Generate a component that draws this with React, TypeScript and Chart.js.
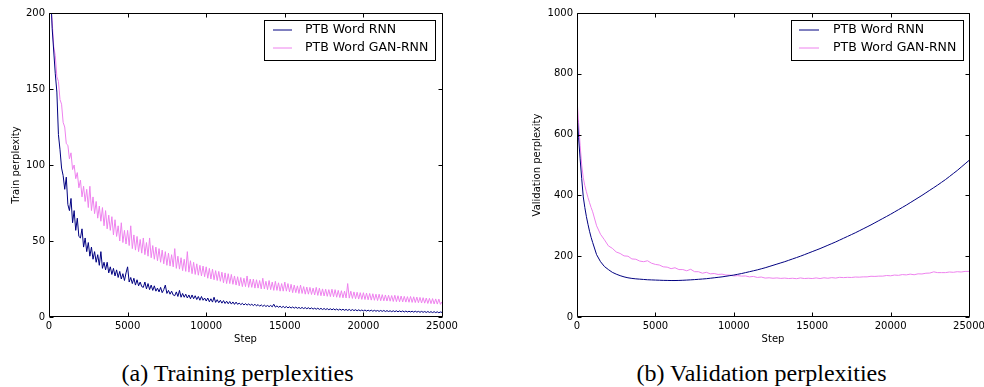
import React, { useEffect, useRef } from "react";
import { Chart, registerables } from "chart.js";

Chart.register(...registerables);

// ---------- data ----------
const trainSteps = Array.from({ length: 251 }, (_, i) => i * 100);
const trainRnn = [
  260, 215, 190, 175, 160, 148, 120, 110, 98, 93,
  84, 92, 74, 70, 78, 62, 70, 57, 65, 53,
  52, 58, 46, 52, 43, 49, 40, 46, 38, 43,
  36, 41, 34, 43, 32, 36, 31, 36, 29, 33,
  28, 32, 27, 31, 26, 30, 25, 28.5, 24, 29,
  33, 23, 26, 22, 25.5, 21, 24.5, 20.5, 23, 20,
  19.5, 23, 18.5, 22, 18, 21, 17.5, 20.5, 17, 19,
  16.5, 19.5, 16, 18, 21, 15.5, 17.5, 15, 17, 14.5,
  14, 16.5, 13.5, 17.5, 13, 15.5, 13, 15, 12.5, 14.5,
  12, 14.5, 12, 14, 11.5, 13.5, 11, 13.5, 11, 12.5,
  10.5, 12.5, 10, 12, 9.8, 13, 9.6, 11.4, 9.4, 11,
  9.1, 10.8, 8.9, 10.4, 8.7, 10.2, 8.5, 9.9, 8.3, 9.8,
  8.3, 9.2, 8.1, 9, 7.9, 8.8, 7.8, 8.6, 7.7, 8.4,
  7.5, 8.4, 7.3, 8.2, 7.1, 8, 7, 7.8, 6.9, 7.6,
  6.8, 7.6, 6.7, 8.4, 6.5, 7.3, 6.4, 7.1, 6.2, 7,
  6.1, 6.9, 6, 6.7, 5.9, 6.6, 5.8, 6.5, 5.7, 6.3,
  5.6, 6.3, 5.5, 6.2, 5.4, 6.1, 5.3, 6, 5.2, 5.8,
  5.1, 5.8, 5, 5.7, 4.9, 5.6, 4.9, 5.5, 4.8, 5.4,
  4.7, 5.4, 4.6, 5.3, 4.5, 5.2, 4.5, 5.1, 4.4, 5,
  4.3, 5, 4.2, 4.9, 4.2, 4.8, 4.1, 4.7, 4.1, 4.6,
  4, 4.6, 3.9, 4.5, 3.9, 4.5, 3.8, 4.4, 3.8, 4.3,
  3.7, 4.3, 3.7, 4.3, 3.6, 4.2, 3.6, 4.1, 3.5, 4.1,
  3.5, 4.1, 3.4, 4, 3.4, 4, 3.3, 3.9, 3.3, 3.8,
  3.3, 3.8, 3.2, 3.8, 3.2, 3.7, 3.1, 3.7, 3.1, 3.6,
  3, 3.6, 3, 3.5, 2.9, 3.5, 2.9, 3.4, 2.8, 3.3,
  3,
];
const trainGan = [
  235, 205, 195, 178, 172, 158, 155, 143, 140, 128,
  125, 114, 113, 104, 108, 97, 100, 91, 95, 85,
  90, 79, 86, 76, 84, 72, 86, 70, 79, 68,
  76, 65, 73, 63, 72, 60, 70, 58, 67, 57,
  66, 54, 64, 53, 60, 50, 62, 49, 57, 48,
  57, 47, 60, 45, 54, 44, 53, 43, 51, 42,
  52, 41, 49, 40, 52, 39, 47, 38, 46, 37,
  45, 36, 44, 35, 43, 34, 42, 33.5, 41, 33,
  45, 32, 40, 31.5, 39, 30.5, 38, 30, 43, 29.5,
  37, 28.5, 36, 28, 35, 27.5, 34, 27, 33.5, 26.5,
  33, 25.5, 32, 25, 31.5, 24.5, 30.5, 24, 30, 23.5,
  29.5, 22.5, 29, 22, 28.5, 22, 28, 21.5, 27, 21,
  26.5, 20.5, 26, 20, 25.5, 20, 27, 19.5, 25, 19.5,
  25, 19, 24.5, 19, 24, 18.5, 25.5, 18.5, 23.5, 18,
  24, 18, 23, 17.5, 23.5, 17.5, 22.5, 17, 22, 17,
  23, 17, 22, 16.5, 21.5, 16, 21, 16, 20.5, 15.5,
  21, 15.5, 20, 15, 19.7, 15, 19.5, 14.8, 19, 14.5,
  19.5, 14.2, 19, 14, 18.5, 13.8, 18.3, 13.6, 18, 13.4,
  18.3, 13.3, 18, 13, 17.5, 12.8, 17.3, 12.6, 17, 12.5,
  22, 12.4, 17, 12.2, 16.5, 12, 16.3, 11.8, 16, 11.6,
  16, 11.5, 15.7, 11.3, 15.5, 11.1, 15.3, 11, 15, 10.8,
  15, 10.7, 14.7, 10.6, 14.5, 10.5, 14.3, 10.4, 14.1, 10.2,
  14.3, 10.1, 14, 10, 13.8, 9.9, 13.6, 9.8, 13.4, 9.7,
  13.5, 9.6, 13.3, 9.5, 13.1, 9.4, 12.9, 9.2, 12.7, 9.1,
  12.5, 8.9, 12.3, 8.8, 12.1, 8.6, 11.9, 8.5, 11.8, 8.3,
  10,
];

const valSteps = [
  ...Array.from({ length: 11 }, (_, i) => i * 100),
  ...Array.from({ length: 96 }, (_, i) => 1250 + i * 250),
];
const valRnn = [
  680, 590, 520, 455, 395, 360, 330, 305, 282, 262, 245,
  205, 182, 166, 156, 147, 141, 136, 132, 129, 127,
  125.5, 124.5, 123.5, 122.5, 122, 121.5, 121, 120.5, 120.3, 120,
  120, 120.3, 120.8, 121.5, 122.2, 123, 124, 125, 126, 127.5,
  129, 130.5, 132, 134, 136, 138, 140.5, 143, 146, 149,
  152, 155, 158.5, 162, 166, 170, 174, 178, 182, 186.5,
  191, 195.5, 200, 205, 210, 215, 220, 225, 230.5, 236,
  241.5, 247, 253, 259, 265, 271, 277, 283.5, 290, 296.5,
  303, 310, 317, 324, 331, 338, 345.5, 353, 360.5, 368,
  376, 384, 392, 400, 408.5, 417, 425.5, 434, 443, 452,
  462, 472, 482, 493, 504, 515,
];
const valGan = [
  720, 640, 565, 500, 458, 432, 412, 393, 376, 360, 346,
  300, 272, 254, 234, 226, 214, 209, 201, 200, 191,
  190, 184, 182, 185, 177, 173, 171, 165, 164, 159,
  162, 156, 156, 152, 157, 149, 149, 144, 147, 142,
  143, 140, 141, 138, 138, 135, 136, 134.5, 135, 132,
  133.5, 130, 131.5, 128, 129, 127.5, 128.5, 127, 128, 126.5,
  127.5, 126, 128.5, 126.5, 127.5, 126.5, 128.5, 126.5, 129, 127.5,
  129.5, 128, 130.5, 129.5, 130.5, 130, 131.5, 131, 132, 132,
  134, 133.5, 134.5, 134.5, 136.5, 135.5, 138, 137, 139.5, 138.5,
  141, 139, 142, 141.5, 144, 144.5, 148.5, 146, 146, 146,
  148, 147, 149, 148, 150, 150,
];

const xTicks = [0, 5000, 10000, 15000, 20000, 25000];
const trainYTicks = [0, 50, 100, 150, 200];
const valYTicks = [0, 200, 400, 600, 800, 1000];
const seriesLabels = ["PTB Word RNN", "PTB Word GAN-RNN"];
const seriesColors = ["#000080", "#EE82EE"];

// ---------- plugins ----------
const framePlugin = {
  id: "mplFrame",
  afterDraw(chart: any, _args: any, opts: any) {
    const ctx = chart.ctx;
    const { left, right, top, bottom } = chart.chartArea;
    const L = Math.round(left) + 0.5;
    const R = Math.round(right) + 0.5;
    const T = Math.round(top) + 0.5;
    const B = Math.round(bottom) - 0.5;
    ctx.save();
    ctx.strokeStyle = "#000";
    ctx.lineWidth = 1;
    ctx.beginPath();
    ctx.rect(L, T, R - L, B - T);
    ctx.stroke();
    const tl = 4;
    ctx.beginPath();
    const xs = chart.scales.x;
    xs.ticks.forEach((t: any) => {
      const p = Math.round(xs.getPixelForValue(t.value)) + 0.5;
      ctx.moveTo(p, B);
      ctx.lineTo(p, B - tl);
      ctx.moveTo(p, T);
      ctx.lineTo(p, T + tl);
    });
    const ys = chart.scales.y;
    ys.ticks.forEach((t: any) => {
      const p = Math.round(ys.getPixelForValue(t.value)) + 0.5;
      ctx.moveTo(L, p);
      ctx.lineTo(L + tl, p);
      ctx.moveTo(R, p);
      ctx.lineTo(R - tl, p);
    });
    ctx.stroke();

    // legend
    const lg = opts.legend;
    if (lg) {
      ctx.fillStyle = "#fff";
      ctx.fillRect(lg.x, lg.y, lg.w, lg.h);
      ctx.strokeStyle = "#000";
      ctx.strokeRect(lg.x + 0.5, lg.y + 0.5, lg.w, lg.h);
      ctx.font = "12.5px 'DejaVu Sans'";
      ctx.textBaseline = "middle";
      ctx.textAlign = "left";
      seriesLabels.forEach((lab, i) => {
        const y = lg.rows[i];
        ctx.strokeStyle = seriesColors[i];
        ctx.beginPath();
        ctx.moveTo(lg.lx1, y);
        ctx.lineTo(lg.lx2, y);
        ctx.stroke();
        ctx.fillStyle = "#000";
        ctx.fillText(lab, lg.tx, y);
      });
    }
    ctx.restore();
  },
};

function makeChart(
  canvas: HTMLCanvasElement,
  cfg: {
    steps: number[];
    a: number[];
    b: number[];
    yTicks: number[];
    yMax: number;
    yTitle: string;
    yWidth: number;
    yTitlePad: number;
    padRight: number;
    legend: any;
  }
) {
  const mk = (vals: number[]) => cfg.steps.map((s, i) => ({ x: s, y: vals[i] }));
  return new Chart(canvas, {
    type: "line",
    data: {
      datasets: [
        {
          label: seriesLabels[0],
          data: mk(cfg.a),
          borderColor: seriesColors[0],
          borderWidth: 1,
          pointRadius: 0,
          tension: 0,
        },
        {
          label: seriesLabels[1],
          data: mk(cfg.b),
          borderColor: seriesColors[1],
          borderWidth: 1,
          pointRadius: 0,
          tension: 0,
        },
      ],
    },
    options: {
      responsive: false,
      animation: false,
      events: [],
      layout: { padding: { top: 13, right: cfg.padRight, left: 0, bottom: 0 } },
      plugins: {
        legend: { display: false },
        tooltip: { enabled: false },
        mplFrame: { legend: cfg.legend },
      } as any,
      scales: {
        x: {
          type: "linear",
          min: 0,
          max: 25000,
          grid: { display: false, drawTicks: false },
          border: { display: false },
          ticks: {
            color: "#000",
            font: { size: 10, family: "'DejaVu Sans'" },
            padding: 3,
            maxRotation: 0,
            callback: (v: any) => String(v),
          },
          afterBuildTicks: (s: any) => {
            s.ticks = xTicks.map((v) => ({ value: v }));
          },
          afterFit: (s: any) => {
            s.height = 28;
            s.paddingLeft = 0;
            s.paddingRight = 0;
          },
          title: {
            display: true,
            text: "Step",
            color: "#000",
            font: { size: 10, family: "'DejaVu Sans'" },
            padding: { top: 0, bottom: 0 },
          },
        },
        y: {
          type: "linear",
          min: 0,
          max: cfg.yMax,
          grid: { display: false, drawTicks: false },
          border: { display: false },
          ticks: {
            color: "#000",
            font: { size: 10, family: "'DejaVu Sans'" },
            padding: 4,
            callback: (v: any) => String(v),
          },
          afterBuildTicks: (s: any) => {
            s.ticks = cfg.yTicks.map((v) => ({ value: v }));
          },
          afterFit: (s: any) => {
            s.width = cfg.yWidth;
            s.paddingTop = 0;
            s.paddingBottom = 0;
          },
          title: {
            display: true,
            text: cfg.yTitle,
            color: "#000",
            font: { size: 10, family: "'DejaVu Sans'" },
            padding: { top: cfg.yTitlePad, bottom: 0 },
          },
        },
      },
    },
    plugins: [framePlugin as any],
  });
}

export default function App() {
  const leftRef = useRef<HTMLCanvasElement>(null);
  const rightRef = useRef<HTMLCanvasElement>(null);

  useEffect(() => {
    const c1 = makeChart(leftRef.current!, {
      steps: trainSteps,
      a: trainRnn,
      b: trainGan,
      yTicks: trainYTicks,
      yMax: 200,
      yTitle: "Train perplexity",
      yWidth: 49,
      yTitlePad: 10.5,
      padRight: 38,
      legend: { x: 264, y: 20, w: 171, h: 40, lx1: 273, lx2: 292, tx: 305, rows: [30, 48] },
    });
    const c2 = makeChart(rightRef.current!, {
      steps: valSteps,
      a: valRnn,
      b: valGan,
      yTicks: valYTicks,
      yMax: 1000,
      yTitle: "Validation perplexity",
      yWidth: 85,
      yTitlePad: 39,
      padRight: 15,
      legend: { x: 299, y: 20, w: 172, h: 40, lx1: 307, lx2: 327, tx: 341, rows: [30, 48] },
    });
    return () => {
      c1.destroy();
      c2.destroy();
    };
  }, []);

  const cap: React.CSSProperties = {
    position: "absolute",
    top: 361,
    fontFamily: "'Liberation Serif', 'Times New Roman', serif",
    fontSize: 24,
    lineHeight: "24px",
    whiteSpace: "nowrap",
    transform: "translateX(-50%)",
    color: "#000",
  };

  return (
    <div
      style={{
        position: "fixed",
        left: 0,
        top: 0,
        width: 984,
        height: 387,
        background: "#fff",
        overflow: "hidden",
      }}
    >
      <canvas
        ref={leftRef}
        width={480}
        height={345}
        style={{ position: "absolute", left: 0, top: 0, width: 480, height: 345 }}
      />
      <canvas
        ref={rightRef}
        width={492}
        height={345}
        style={{ position: "absolute", left: 492, top: 0, width: 492, height: 345 }}
      />
      <div style={{ ...cap, left: 237.5 }}>(a) Training perplexities</div>
      <div style={{ ...cap, left: 761.5 }}>(b) Validation perplexities</div>
    </div>
  );
}
